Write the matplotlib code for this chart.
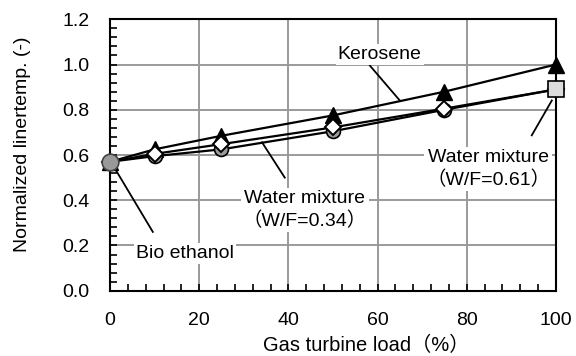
import matplotlib.pyplot as plt
from matplotlib.ticker import MultipleLocator

# gas turbine load (%)
load = [0, 10, 25, 50, 75, 100]
kerosene = [0.57, 0.625, 0.685, 0.775, 0.88, 1.00]
water_034 = [0.57, 0.595, 0.625, 0.705, 0.80, 0.89]
water_061 = [0.57, 0.605, 0.648, 0.722, 0.805, 0.89]
bio_ethanol_load = [0]
bio_ethanol = [0.57]
end_load = [100]
end_value = [0.89]

plt.rcParams['font.family'] = ['Liberation Sans', 'Noto Sans CJK JP']
fig = plt.figure(figsize=(5.76, 3.56), dpi=100)
ax = fig.add_axes([0.191, 0.1834, 0.774, 0.7624])

ax.set_xlim(0, 100)
ax.set_ylim(0, 1.2)
ax.xaxis.set_major_locator(MultipleLocator(20))
ax.xaxis.set_minor_locator(MultipleLocator(4))
ax.yaxis.set_major_locator(MultipleLocator(0.2))
ax.yaxis.set_minor_locator(MultipleLocator(0.04))
ax.yaxis.set_major_formatter(lambda v, p: f"{v:.1f}")
ax.tick_params(which='both', direction='in', labelsize=14, top=False, right=False)
ax.tick_params(which='major', length=5, width=1.2)
ax.tick_params(which='minor', length=5, width=1.2)
ax.tick_params(axis='x', which='major', pad=15)
ax.tick_params(axis='y', which='major', pad=15)
ax.grid(True, which='major', color='#9a9a9a', linewidth=1.4, zorder=0)
ax.set_axisbelow(True)
for s in ax.spines.values():
    s.set_linewidth(1.5)

ln = dict(color='black', linewidth=1.6, zorder=3, clip_on=False)
ax.plot(load, kerosene, marker='^', markersize=11, markerfacecolor='black',
        markeredgecolor='black', **ln)
ax.plot(load, water_034, marker='o', markersize=10, markerfacecolor='#9a9a9a',
        markeredgecolor='black', markeredgewidth=1.2, **ln)
ax.plot(load, water_061, marker='D', markersize=8.5, markerfacecolor='white',
        markeredgecolor='black', markeredgewidth=1.4, **ln)
ax.plot(bio_ethanol_load, bio_ethanol, linestyle='none', marker='o', markersize=12,
        markerfacecolor='#999999', markeredgecolor='#444444', markeredgewidth=1.2,
        zorder=5, clip_on=False)
ax.plot(end_load, end_value, linestyle='none', marker='s', markersize=11,
        markerfacecolor='#dcdcdc', markeredgecolor='black', markeredgewidth=1.2,
        zorder=5, clip_on=False)

box = dict(facecolor='white', edgecolor='none', pad=1.5)
txt = dict(fontsize=14, ha='center', va='center', bbox=box, zorder=4,
           linespacing=1.35)
lead = dict(color='black', linewidth=1.3, zorder=3)

ax.text(60.5, 1.045, "Kerosene", **txt)
ax.plot([58.3, 65.0], [0.995, 0.841], **lead)

ax.text(43.7, 0.357, "Water mixture\n（W/F=0.34）", **txt)
ax.plot([34.1, 39.2], [0.656, 0.50], **lead)

ax.text(84.8, 0.538, "Water mixture\n（W/F=0.61）", **txt)
ax.plot([99.1, 94.6], [0.841, 0.687], **lead)

ax.text(16.8, 0.166, "Bio ethanol", **txt)
ax.plot([0.4, 9.6], [0.563, 0.26], **lead)

ax.set_xlabel("Gas turbine load（%）", fontsize=14.5)
ax.set_ylabel("Normalized linertemp. (-)", fontsize=14)
ax.xaxis.set_label_coords(0.575, -0.2)
ax.yaxis.set_label_coords(-0.197, 0.54)
ax.xaxis.label.set_va('center')
ax.yaxis.label.set_va('center')

fig.savefig("out.png", dpi=100)
